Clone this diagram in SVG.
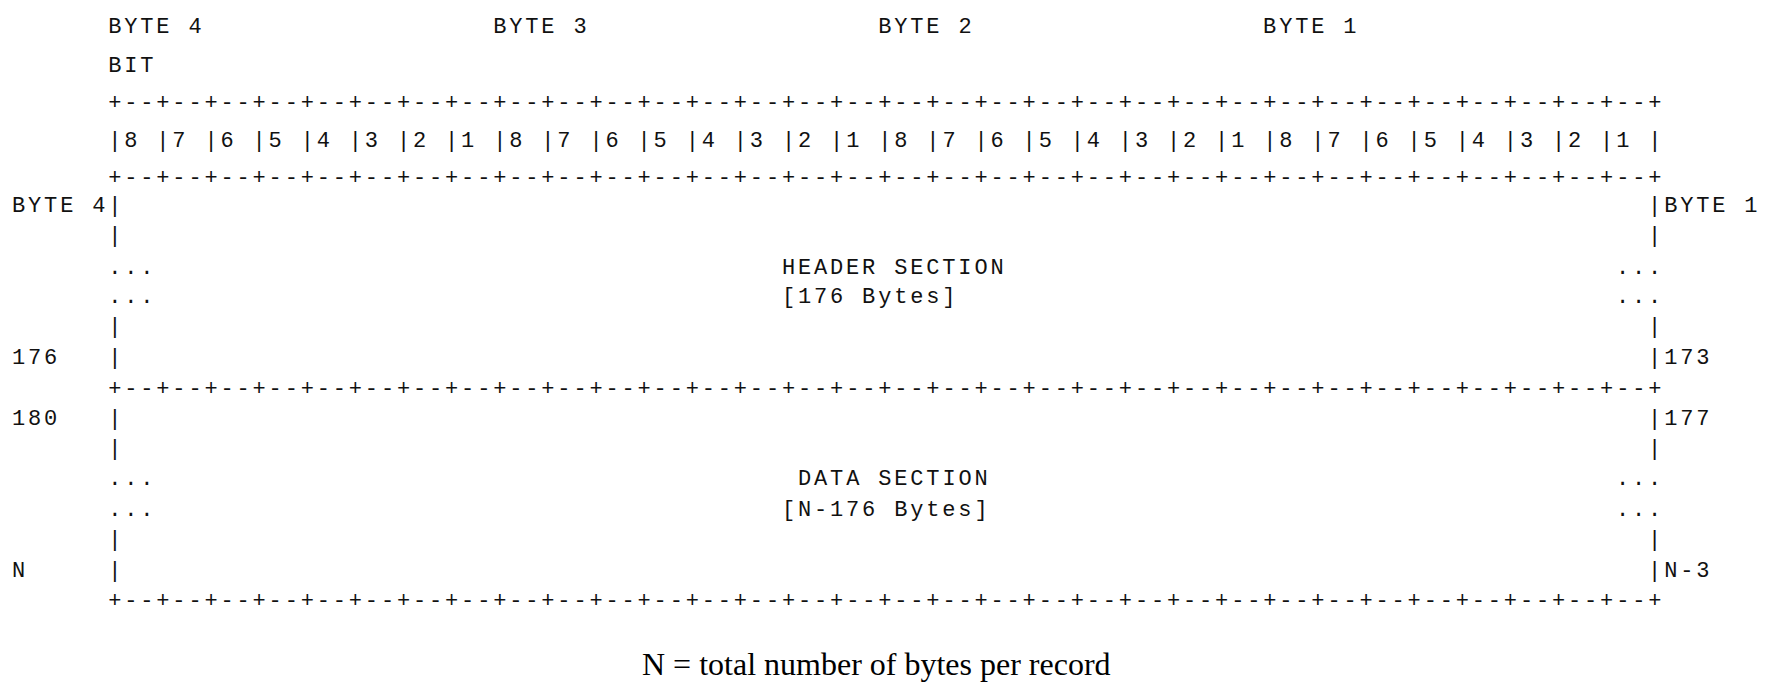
<svg xmlns="http://www.w3.org/2000/svg" width="1765" height="687" viewBox="0 0 1765 687" xml:space="preserve">
<style>
.m{font-family:"Liberation Mono","DejaVu Sans Mono",monospace;font-size:22px;letter-spacing:2.84px;fill:#111;white-space:pre}
.s{font-family:"Liberation Serif","Times New Roman",serif;font-size:32px;fill:#000}
</style>
<rect width="1765" height="687" fill="#fff"/>
<g id="byte-labels">
<text class="m" x="108.2" y="33.3">BYTE 4</text>
<text class="m" x="493.2" y="33.3">BYTE 3</text>
<text class="m" x="878.2" y="33.3">BYTE 2</text>
<text class="m" x="1263.1" y="33.3">BYTE 1</text>
<text class="m" x="108.2" y="71.7">BIT</text>
</g>
<g id="bit-row">
<text class="m" x="108.2" y="108.7">+--+--+--+--+--+--+--+--+--+--+--+--+--+--+--+--+--+--+--+--+--+--+--+--+--+--+--+--+--+--+--+--+</text>
<text class="m" x="108.2" y="146.7">|8 |7 |6 |5 |4 |3 |2 |1 |8 |7 |6 |5 |4 |3 |2 |1 |8 |7 |6 |5 |4 |3 |2 |1 |8 |7 |6 |5 |4 |3 |2 |1 |</text>
<text class="m" x="108.2" y="183.7">+--+--+--+--+--+--+--+--+--+--+--+--+--+--+--+--+--+--+--+--+--+--+--+--+--+--+--+--+--+--+--+--+</text>
</g>
<g id="header-section">
<text class="m" x="12" y="211.7">BYTE 4|</text>
<text class="m" x="1648.1" y="211.7">|BYTE 1</text>
<text class="m" x="108.2" y="242.1">|</text>
<text class="m" x="1648.1" y="242.1">|</text>
<text class="m" x="108.2" y="273.5">...</text>
<text class="m" x="781.9" y="273.5">HEADER SECTION</text>
<text class="m" x="1616" y="273.5">...</text>
<text class="m" x="108.2" y="303.3">...</text>
<text class="m" x="781.9" y="303.3">[176 Bytes]</text>
<text class="m" x="1616" y="303.3">...</text>
<text class="m" x="108.2" y="333.3">|</text>
<text class="m" x="1648.1" y="333.3">|</text>
<text class="m" x="12" y="363.7">176</text>
<text class="m" x="108.2" y="363.7">|</text>
<text class="m" x="1648.1" y="363.7">|173</text>
<text class="m" x="108.2" y="394.6">+--+--+--+--+--+--+--+--+--+--+--+--+--+--+--+--+--+--+--+--+--+--+--+--+--+--+--+--+--+--+--+--+</text>
</g>
<g id="data-section">
<text class="m" x="12" y="425">180</text>
<text class="m" x="108.2" y="425">|</text>
<text class="m" x="1648.1" y="425">|177</text>
<text class="m" x="108.2" y="454.9">|</text>
<text class="m" x="1648.1" y="454.9">|</text>
<text class="m" x="108.2" y="485.3">...</text>
<text class="m" x="798" y="485.3">DATA SECTION</text>
<text class="m" x="1616" y="485.3">...</text>
<text class="m" x="108.2" y="515.7">...</text>
<text class="m" x="781.9" y="515.7">[N-176 Bytes]</text>
<text class="m" x="1616" y="515.7">...</text>
<text class="m" x="108.2" y="546.1">|</text>
<text class="m" x="1648.1" y="546.1">|</text>
<text class="m" x="12" y="576.6">N</text>
<text class="m" x="108.2" y="576.6">|</text>
<text class="m" x="1648.1" y="576.6">|N-3</text>
<text class="m" x="108.2" y="606.6">+--+--+--+--+--+--+--+--+--+--+--+--+--+--+--+--+--+--+--+--+--+--+--+--+--+--+--+--+--+--+--+--+</text>
</g>
<g id="footnote">
<text class="s" x="642" y="675">N = total number of bytes per record</text>
</g>
</svg>
